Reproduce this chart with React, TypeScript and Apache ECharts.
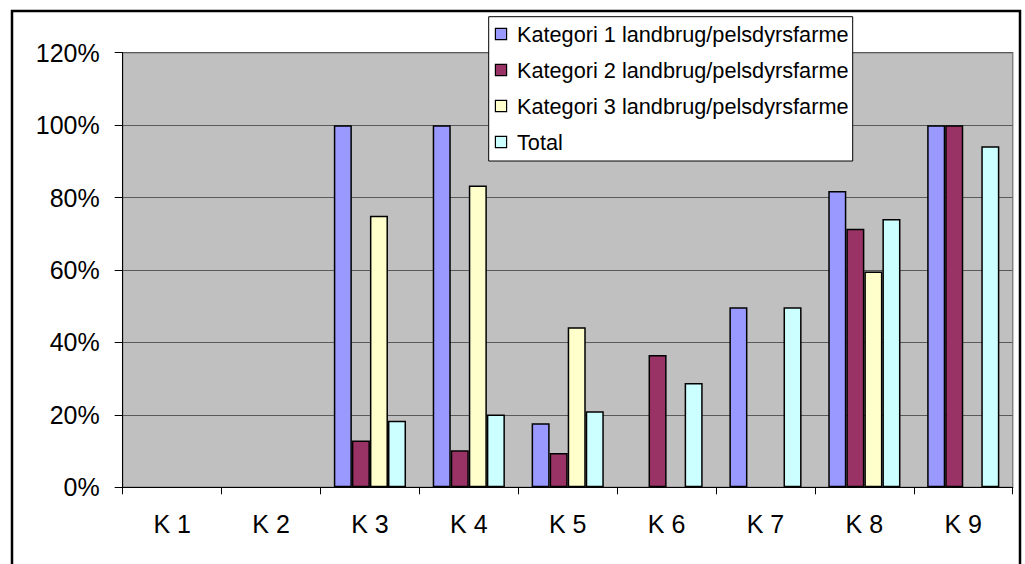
import React, { useEffect, useRef } from "react";
import * as echarts from "echarts";

// Categories along the x axis
const categories = ["K 1", "K 2", "K 3", "K 4", "K 5", "K 6", "K 7", "K 8", "K 9"];

// Series names shown in the legend
const seriesNames = [
  "Kategori 1 landbrug/pelsdyrsfarme",
  "Kategori 2 landbrug/pelsdyrsfarme",
  "Kategori 3 landbrug/pelsdyrsfarme",
  "Total",
];

// Shares in percent (null = no bar)
const kategori1 = [null, null, 100, 100, 17.7, null, 49.7, 81.8, 100];
const kategori2 = [null, null, 12.9, 10.2, 9.5, 36.5, null, 71.4, 100];
const kategori3 = [null, null, 75, 83.3, 44.2, null, null, 59.6, null];
const total = [null, null, 18.4, 20.1, 21.0, 28.8, 49.7, 74.1, 94.2];

// Value axis range
const yMin = 0;
const yMax = 120;
const yStep = 20;

const seriesColors = ["#9999FF", "#993366", "#FFFFCC", "#CCFFFF"];
const seriesData = [kategori1, kategori2, kategori3, total];

const FONT = "'Liberation Sans', Arial, sans-serif";

// Rich-text styles for the legend: one square swatch per series plus a spacer
const legendRich: Record<string, any> = {
  g: { width: 11, height: 10 },
};
seriesColors.forEach((c, i) => {
  legendRich["s" + i] = {
    width: 10,
    height: 10,
    backgroundColor: c,
    borderColor: "#000000",
    borderWidth: 1.2,
  };
});

export default function App() {
  const ref = useRef<HTMLDivElement>(null);

  useEffect(() => {
    if (!ref.current) return;
    const chart = echarts.init(ref.current, undefined, { renderer: "svg" });

    chart.setOption({
      animation: false,
      backgroundColor: "#FFFFFF",
      textStyle: { fontFamily: FONT },
      grid: {
        left: 122.7,
        top: 52.7,
        right: 12.3,
        bottom: 76.7,
        containLabel: false,
        show: true,
        backgroundColor: "#C0C0C0",
        borderColor: "#808080",
        borderWidth: 1.5,
      },
      graphic: [
        {
          type: "rect",
          z: 0,
          silent: true,
          shape: { x: 12, y: 11, width: 1008, height: 620 },
          style: { fill: "none", stroke: "#000000", lineWidth: 2.5 },
        },
        {
          type: "rect",
          z: 10,
          silent: true,
          shape: { x: 488.7, y: 16.7, width: 364, height: 144.3 },
          style: { fill: "#FFFFFF", stroke: "#000000", lineWidth: 1 },
        },
      ],
      legend: {
        z: 20,
        orient: "vertical",
        left: 490,
        top: 23,
        padding: 0,
        itemGap: 14,
        itemWidth: 1,
        itemHeight: 10,
        icon: "none",
        selectedMode: false,
        formatter: (name: string) =>
          `{s${seriesNames.indexOf(name)}|}{g|}${name}`,
        textStyle: {
          fontFamily: FONT,
          fontSize: 21.7,
          color: "#000000",
          rich: legendRich,
        },
        data: seriesNames,
      },
      xAxis: {
        type: "category",
        data: categories,
        boundaryGap: true,
        axisLine: { show: true, lineStyle: { color: "#000000", width: 1 } },
        axisTick: {
          show: true,
          alignWithLabel: false,
          length: 7,
          lineStyle: { color: "#000000", width: 1 },
        },
        axisLabel: {
          fontFamily: FONT,
          fontSize: 25,
          color: "#000000",
          margin: 24,
          interval: 0,
        },
        splitLine: { show: false },
      },
      yAxis: {
        type: "value",
        min: yMin,
        max: yMax,
        interval: yStep,
        axisLine: { show: true, lineStyle: { color: "#000000", width: 1 } },
        axisTick: { show: true, length: 8, lineStyle: { color: "#000000", width: 1 } },
        axisLabel: {
          fontFamily: FONT,
          fontSize: 25,
          color: "#000000",
          margin: 23,
          formatter: "{value}%",
        },
        splitLine: { show: true, lineStyle: { color: "#5A5A5A", width: 1.2 } },
      },
      series: seriesNames.map((name, i) => ({
        name,
        type: "bar",
        data: seriesData[i],
        barGap: "0%",
        barCategoryGap: "27%",
        itemStyle: {
          color: seriesColors[i],
          borderColor: "#000000",
          borderWidth: 1.5,
        },
      })),
    });

    return () => chart.dispose();
  }, []);

  return (
    <div
      ref={ref}
      style={{ position: "absolute", left: 0, top: 0, width: 1025, height: 564 }}
    />
  );
}
